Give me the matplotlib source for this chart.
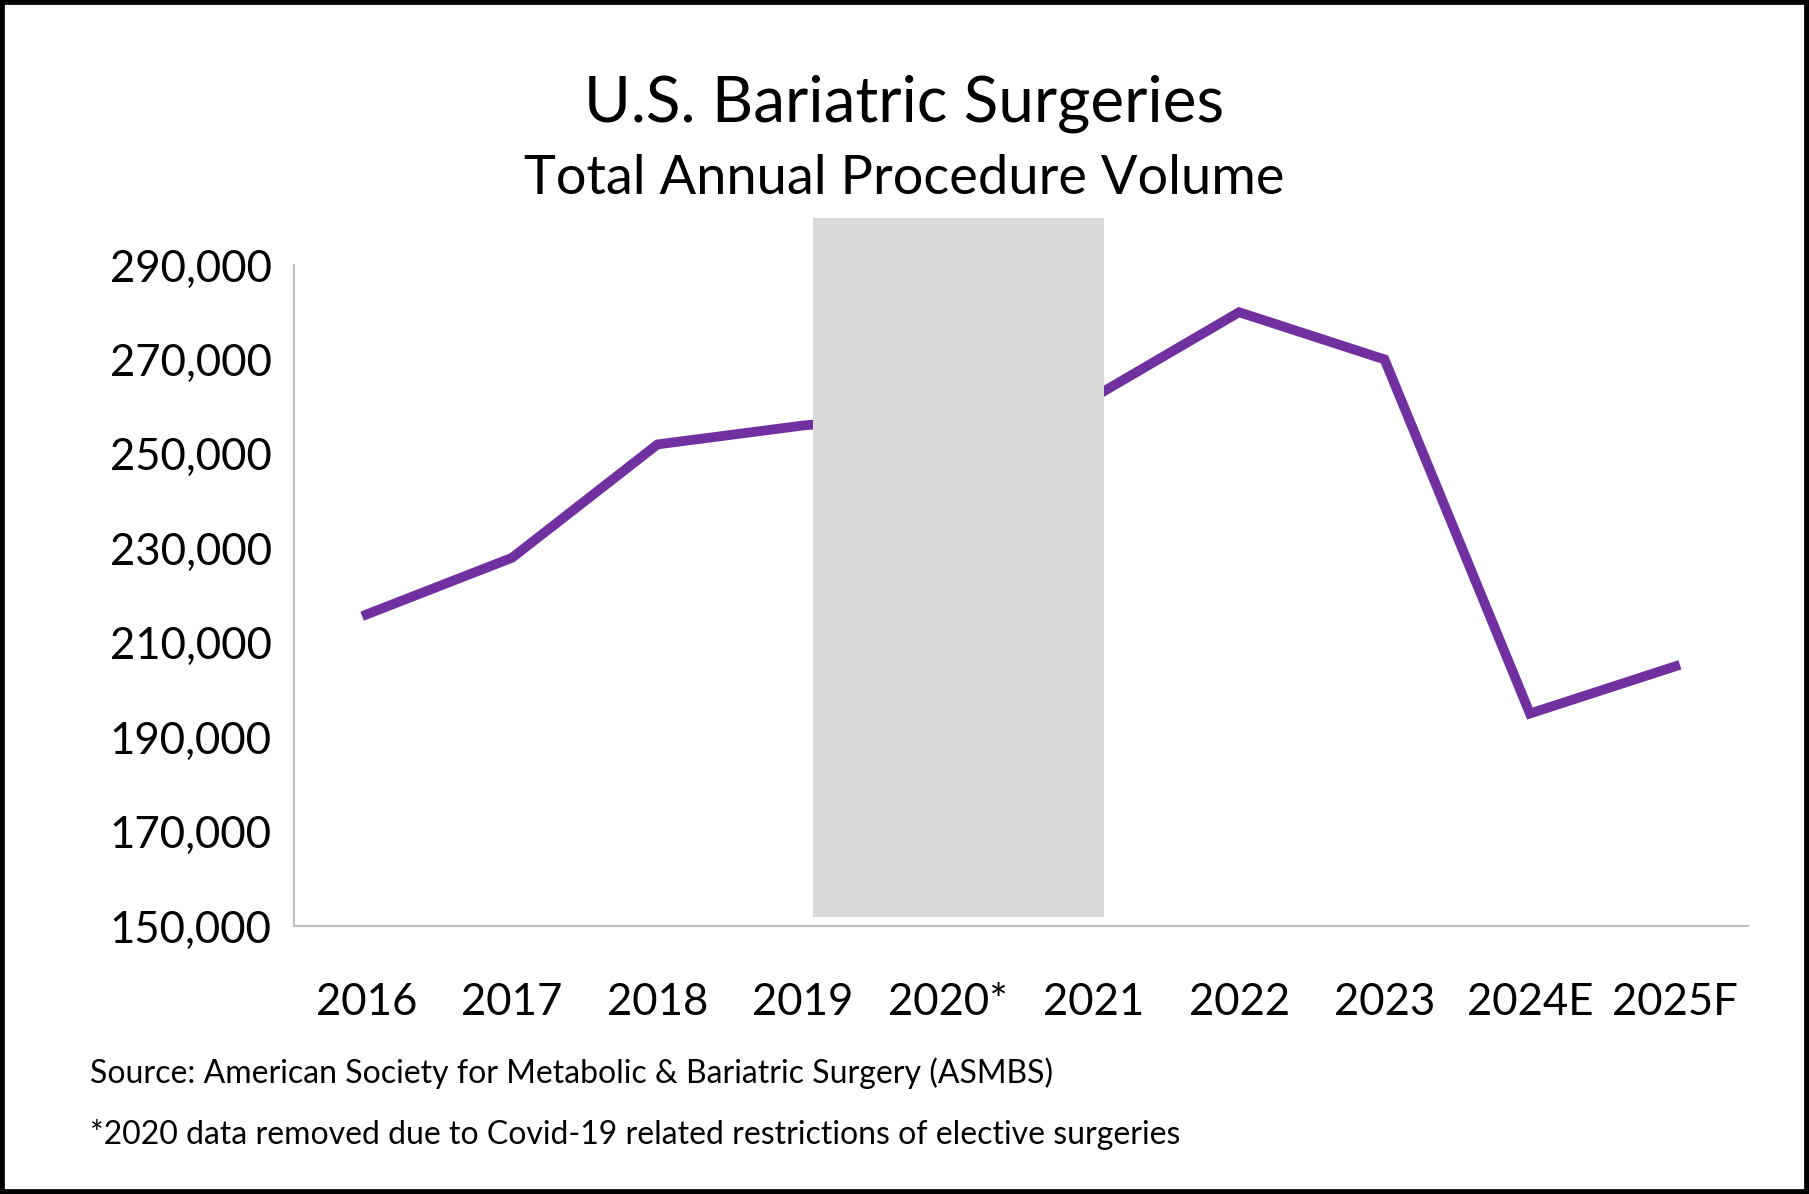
import matplotlib
matplotlib.use("Agg")
import matplotlib.pyplot as plt
from matplotlib.patches import Rectangle
import numpy as np

years = ["2016","2017","2018","2019","2020*","2021","2022","2023","2024E","2025F"]
volumes = [216000, 228000, 252000, 256000, np.nan, 262000, 280000, 270000, 195000, 205000]
yticks = [150000,170000,190000,210000,230000,250000,270000,290000]

plt.rcParams['font.family'] = ['Lato', 'DejaVu Sans']
W, H = 1809, 1194
fig = plt.figure(figsize=(W/100, H/100), dpi=100)
fig.patches.append(Rectangle((0,0),1,1,transform=fig.transFigure,fill=False,edgecolor='black',linewidth=7))
ax = fig.add_axes([294/W, 1-926/H, (1748-294)/W, (926-265)/H])
x = np.arange(len(years))
v = np.array(volumes, dtype=float)
mask = ~np.isnan(v)
ax.plot(x[mask], v[mask], color='#7030A0', lw=7, solid_joinstyle='miter', zorder=2)
ax.add_patch(Rectangle((3.07, 152000), 2.0, 148000, facecolor='#D9D9D9', edgecolor='none', zorder=3, clip_on=False))
ax.set_xlim(-0.5, len(years)-0.5)
ax.set_ylim(150000, 290000)
ax.set_yticks(yticks)
ax.set_yticklabels([f"{t:,}" for t in yticks])
ax.set_xticks(x)
ax.set_xticklabels(years)
ax.tick_params(length=0, labelsize=31.5, pad=16)
ax.tick_params(axis='x', pad=40)
for s in ['top','right']:
    ax.spines[s].set_visible(False)
for s in ['left','bottom']:
    ax.spines[s].set_color('#BFBFBF')
    ax.spines[s].set_linewidth(1.5)
fig.text(0.5, 1-104/H, "U.S. Bariatric Surgeries", ha='center', va='center', fontsize=46)
fig.text(0.5, 1-179/H, "Total Annual Procedure Volume", ha='center', va='center', fontsize=39)
fig.text(90/W, 1-1073/H, "Source: American Society for Metabolic & Bariatric Surgery (ASMBS)", va='center', fontsize=23)
fig.text(90/W, 1-1134/H, "*2020 data removed due to Covid-19 related restrictions of elective surgeries", va='center', fontsize=23)
fig.savefig("out.png", dpi=100)
